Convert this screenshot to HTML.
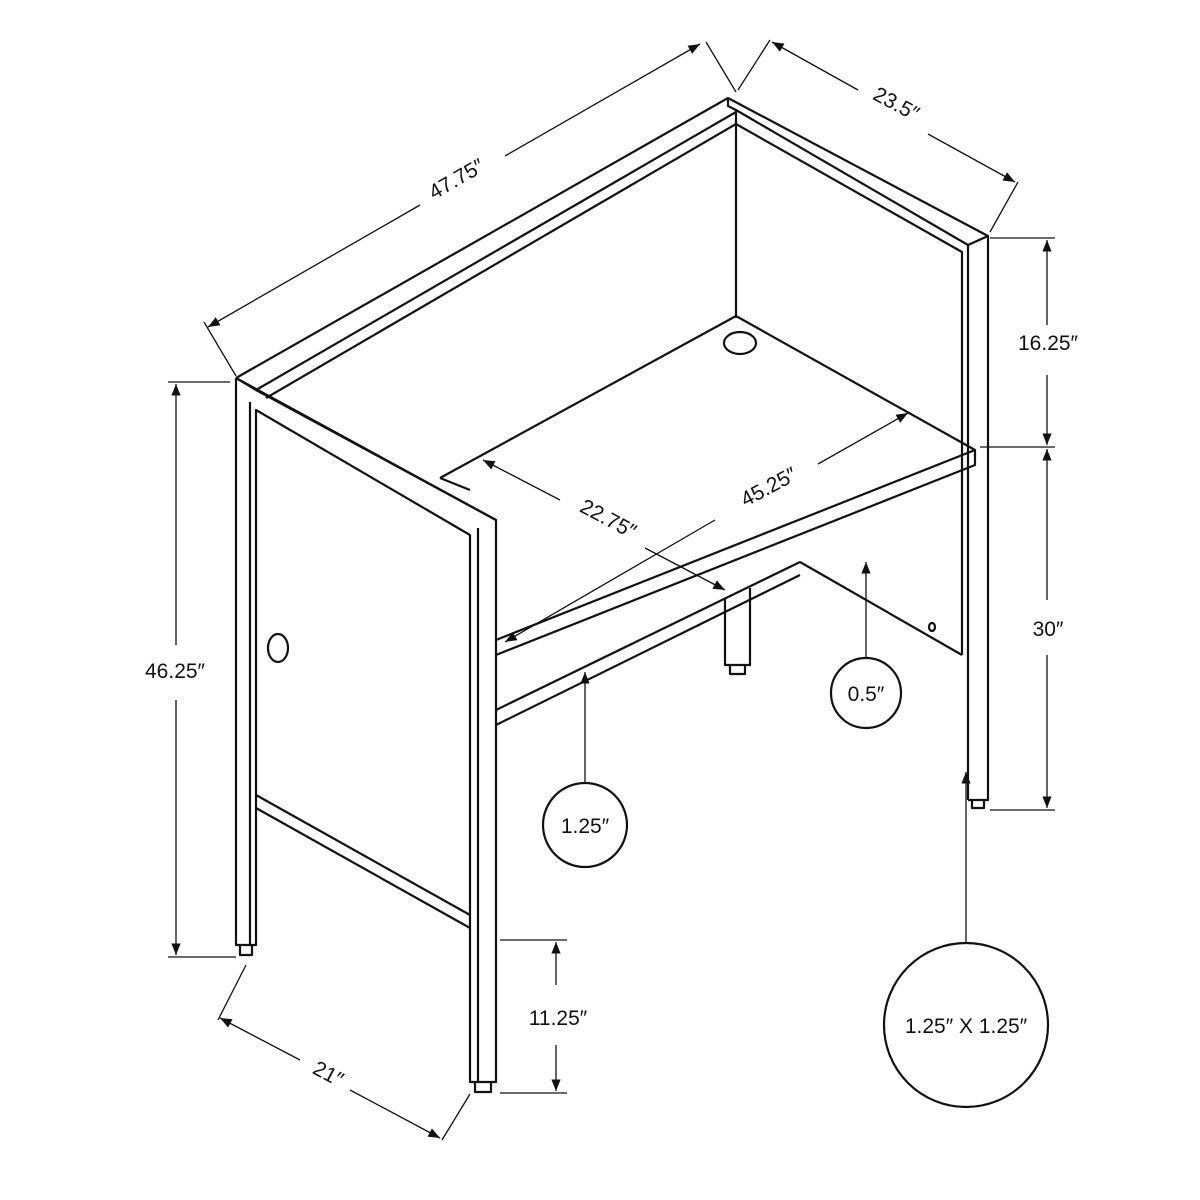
<!DOCTYPE html>
<html><head><meta charset="utf-8"><style>html,body{margin:0;padding:0;background:#fff}svg{display:block}text{font-family:"Liberation Sans",sans-serif;font-size:21px;fill:#111}</style></head><body>
<svg width="1200" height="1200" viewBox="0 0 1200 1200" xmlns="http://www.w3.org/2000/svg">
<defs><marker id="a" viewBox="0 0 10 10" refX="10" refY="5" markerWidth="9" markerHeight="9" orient="auto-start-reverse"><path d="M0,1 L10,5 L0,9 z" fill="#111"/></marker></defs>
<g fill="none" stroke="#111" stroke-width="2.2" stroke-linejoin="round">
<!-- top back rail -->
<path d="M236,378 L728,98 L988,236 L988,800 L968,800"/>
<path d="M728,98 L728,106 L736,110 L968,245 L988,236"/>
<path d="M256,390 L736,112 M266,398 L736,124 L962,252 L962,655"/>
<path d="M968,245 L968,800"/>
<path d="M736,110 L736,318"/>
<!-- left side panel -->
<path d="M236,378 L236,945 L256,945 L256,410 L470,535 L470,1082 L496,1082 L496,520 L236,378"/>
<path d="M236,378 L256,390 L496,520 M250,402 L250,945 M478,528 L478,1082"/>
<path d="M256,795 L470,915 M256,808 L470,928"/>
<path d="M240,945 L240,955 L252,955 L252,945 M475,1082 L475,1092 L491,1092 L491,1082"/>
<!-- desk -->
<path d="M440,478 L736,316 L975,450 L496,640 M496,655 L975,465 L975,450 M440,478 L470,490"/>
<path d="M496,710 L800,562 M496,725 L800,575 M800,562 L962,655"/>
<path d="M725,598 L725,665 L750,665 L750,588 M730,665 L730,674 L745,674 L745,665"/>
<path d="M972,800 L972,808 L984,808 L984,800"/>
<ellipse cx="740" cy="343" rx="16" ry="11"/>
<ellipse cx="278" cy="648" rx="10" ry="14"/>
<ellipse cx="932" cy="627" rx="3" ry="4"/>
<!-- circles -->
<circle cx="866" cy="693" r="35"/>
<circle cx="585" cy="825" r="42"/>
<circle cx="966" cy="1025" r="82"/>
</g>
<g fill="none" stroke="#111" stroke-width="1.3">
<path d="M236,376 L204,322 M706,42 L736,92 M738,90 L770,40 M990,232 L1018,182"/>
<path d="M990,238 L1055,238 M980,447 L1055,447 M990,810 L1055,810"/>
<path d="M230,382 L168,382 M236,957 L168,957 M246,965 L218,1020 M470,1094 L442,1140"/>
<path d="M500,940 L567,940 M500,1093 L567,1093"/>
<path d="M208,327 L420,205" marker-start="url(#a)"/>
<path d="M700,44 L505,156" marker-start="url(#a)"/>
<path d="M772,42 L858,90" marker-start="url(#a)"/>
<path d="M1015,182 L928,134" marker-start="url(#a)"/>
<path d="M1047,240 L1047,325" marker-start="url(#a)"/>
<path d="M1047,445 L1047,375" marker-start="url(#a)"/>
<path d="M1047,449 L1047,600" marker-start="url(#a)"/>
<path d="M1047,808 L1047,655" marker-start="url(#a)"/>
<path d="M176,384 L176,645" marker-start="url(#a)"/>
<path d="M176,955 L176,700" marker-start="url(#a)"/>
<path d="M220,1018 L300,1060" marker-start="url(#a)"/>
<path d="M440,1138 L350,1090" marker-start="url(#a)"/>
<path d="M556,942 L556,985" marker-start="url(#a)"/>
<path d="M556,1091 L556,1045" marker-start="url(#a)"/>
<path d="M483,460 L560,500" marker-start="url(#a)"/>
<path d="M725,590 L645,548" marker-start="url(#a)"/>
<path d="M505,642 L715,520" marker-start="url(#a)"/>
<path d="M908,413 L818,464" marker-start="url(#a)"/>
<path d="M866,562 L866,658" marker-start="url(#a)"/>
<path d="M585,672 L585,783" marker-start="url(#a)"/>
<path d="M966,772 L966,943" marker-start="url(#a)"/>
</g>
<text x="460" y="185" transform="rotate(-30 460 185)" text-anchor="middle">47.75″</text>
<text x="893" y="110" transform="rotate(28 893 110)" text-anchor="middle">23.5″</text>
<text x="1048" y="350" text-anchor="middle">16.25″</text>
<text x="1048" y="636" text-anchor="middle">30″</text>
<text x="175" y="678" text-anchor="middle">46.25″</text>
<text x="325" y="1080" transform="rotate(28 325 1080)" text-anchor="middle">21″</text>
<text x="558" y="1025" text-anchor="middle">11.25″</text>
<text x="605" y="525" transform="rotate(28 605 525)" text-anchor="middle">22.75″</text>
<text x="772" y="493" transform="rotate(-28 772 493)" text-anchor="middle">45.25″</text>
<text x="866" y="701" text-anchor="middle">0.5″</text>
<text x="585" y="833" text-anchor="middle">1.25″</text>
<text x="966" y="1033" text-anchor="middle">1.25″ X 1.25″</text>
</svg>
</body></html>
